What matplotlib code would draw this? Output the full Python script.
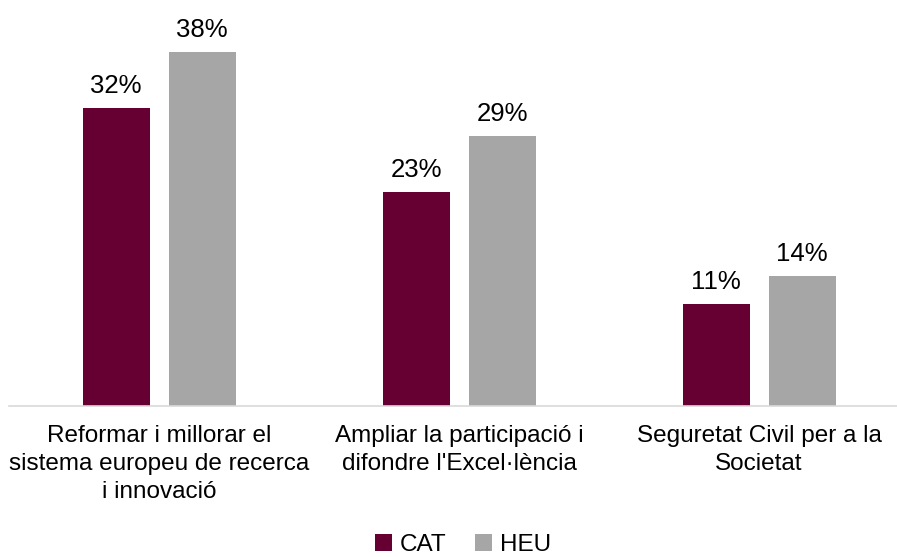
import matplotlib
matplotlib.use("Agg")
import matplotlib.pyplot as plt
import numpy as np

categories = ["Reformar i millorar el\nsistema europeu de recerca\ni innovació",
              "Ampliar la participació i\ndifondre l'Excel·lència",
              "Seguretat Civil per a la\nSocietat"]
series_names = ["CAT", "HEU"]
cat_values = [32, 23, 11]
heu_values = [38, 29, 14]
colors = ["#660033", "#A6A6A6"]

plt.rcParams['font.family'] = ['Liberation Sans', 'DejaVu Sans']

W, H = 897, 557
fig = plt.figure(figsize=(W / 100, H / 100), dpi=100)
left = 9 / W
bottom = (H - 406) / H
top_px = 406 - 40 * (406 - 52) / 38
ax = fig.add_axes([left, bottom, 1 - left, (406 - top_px) / H])

x = np.arange(len(categories))
bw = 67 / 300
off = 43 / 300
b1 = ax.bar(x - off, cat_values, bw, color=colors[0], label=series_names[0])
b2 = ax.bar(x + off, heu_values, bw, color=colors[1], label=series_names[1])

for bars, vals in ((b1, cat_values), (b2, heu_values)):
    for r, v in zip(bars, vals):
        ax.annotate(f"{v}%", (r.get_x() + r.get_width() / 2, r.get_height()),
                    xytext=(0, 7), textcoords="offset points",
                    ha="center", va="bottom", fontsize=18.5, color="#000000")

ax.set_xlim(-0.5, -0.5 + (W - 9) / 300)
ax.set_ylim(0, 40)
ax.set_xticks(x)
ax.set_xticklabels(categories, fontsize=17.5, linespacing=1.33, color="#000000")
ax.tick_params(axis="x", length=0, pad=14)
ax.set_yticks([])
for s in ["top", "right", "left"]:
    ax.spines[s].set_visible(False)
ax.spines["bottom"].set_color("#D9D9D9")
ax.spines["bottom"].set_linewidth(1.2)

fig.legend(handles=[b1, b2], labels=series_names, loc="center",
           bbox_to_anchor=(463 / W, 1 - 545 / H), ncol=2, frameon=False,
           fontsize=17.5, handlelength=0.7, handleheight=0.7,
           handletextpad=0.3, columnspacing=1.2)

fig.savefig("out.png", dpi=100)
